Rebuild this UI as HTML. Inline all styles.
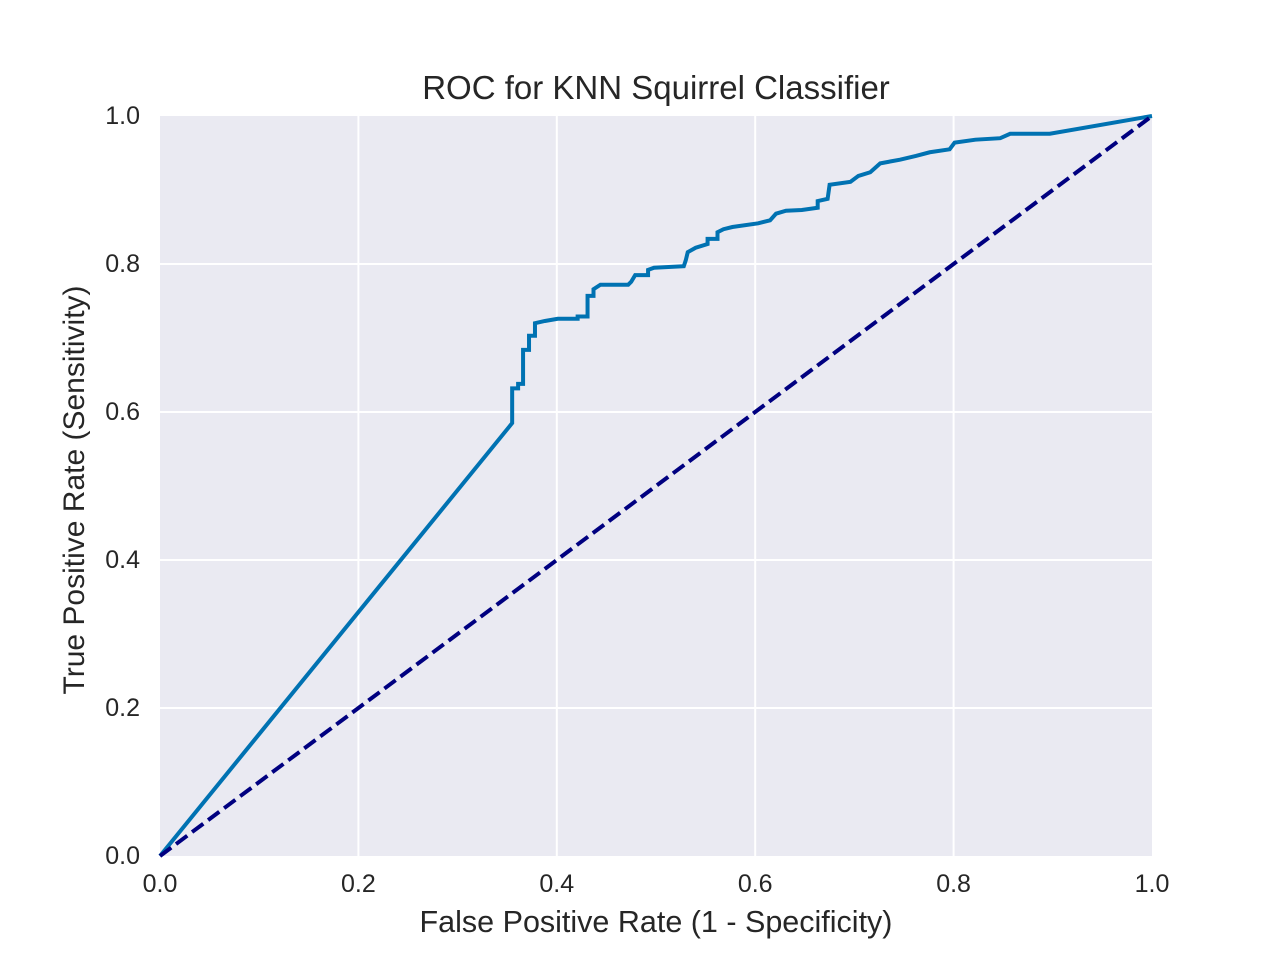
<!DOCTYPE html>
<html><head><meta charset="utf-8"><style>
html,body{margin:0;padding:0;background:#fff;}
svg{display:block;font-family:"Liberation Sans",Arial,sans-serif;}
</style></head><body>
<svg id="chart" width="1280" height="960" xmlns="http://www.w3.org/2000/svg">
<rect x="160" y="116" width="992" height="740" fill="#eaeaf2"/>
<g id="grid"></g>
<g id="ticks"></g>
<g id="series"></g>
<text x="656" y="99" text-anchor="middle" style="font-size:33px" fill="#262626">ROC for KNN Squirrel Classifier</text>
<text x="656" y="932" text-anchor="middle" style="font-size:30.5px" fill="#262626">False Positive Rate (1 - Specificity)</text>
<text transform="translate(84,490) rotate(-90)" text-anchor="middle" style="font-size:30px" fill="#262626">True Positive Rate (Sensitivity)</text>
</svg>
<script>
const tickValues=[0,0.2,0.4,0.6,0.8,1.0];
const tickLabels=["0.0","0.2","0.4","0.6","0.8","1.0"];
const fpr=[0,0.355,0.355,0.361,0.361,0.366,0.366,0.372,0.372,0.378,0.378,0.388,0.401,0.421,0.421,0.431,0.431,0.437,0.437,0.444,0.472,0.475,0.479,0.492,0.492,0.498,0.528,0.530,0.532,0.540,0.552,0.552,0.562,0.562,0.568,0.577,0.603,0.615,0.621,0.631,0.647,0.663,0.663,0.673,0.675,0.696,0.704,0.716,0.726,0.746,0.762,0.776,0.796,0.801,0.822,0.847,0.857,0.897,1];
const tpr=[0,0.585,0.632,0.632,0.638,0.638,0.684,0.684,0.703,0.703,0.720,0.723,0.726,0.726,0.729,0.729,0.757,0.757,0.766,0.772,0.772,0.776,0.785,0.785,0.792,0.795,0.797,0.805,0.816,0.822,0.827,0.834,0.834,0.843,0.847,0.850,0.855,0.859,0.868,0.872,0.873,0.876,0.885,0.888,0.907,0.911,0.919,0.924,0.936,0.941,0.946,0.951,0.955,0.964,0.968,0.970,0.976,0.976,1];
const diagX=[0,1];
const diagY=[0,1];
const NS="http://www.w3.org/2000/svg";
const X0=160,X1=1152,Y0=856,Y1=116;
function xs(v){return X0+v*(X1-X0);}
function ys(v){return Y0-v*(Y0-Y1);}
const grid=document.getElementById('grid'),ticks=document.getElementById('ticks'),series=document.getElementById('series');
tickValues.forEach((v,i)=>{
  if(v>0&&v<1){
    const gx=document.createElementNS(NS,'line');
    gx.setAttribute('x1',xs(v));gx.setAttribute('x2',xs(v));gx.setAttribute('y1',Y1);gx.setAttribute('y2',Y0);
    gx.setAttribute('stroke','#fff');gx.setAttribute('stroke-width','2');
    
    
    grid.appendChild(gx);
    const gy=document.createElementNS(NS,'line');
    gy.setAttribute('y1',ys(v));gy.setAttribute('y2',ys(v));gy.setAttribute('x1',X0);gy.setAttribute('x2',X1);
    gy.setAttribute('stroke','#fff');gy.setAttribute('stroke-width','2');
    
    
    grid.appendChild(gy);
  }
  const tx=document.createElementNS(NS,'text');
  tx.setAttribute('x',xs(v));tx.setAttribute('y',892);tx.setAttribute('text-anchor','middle');
  tx.setAttribute('style','font-size:25px');tx.setAttribute('fill','#262626');tx.textContent=tickLabels[i];
  
  
  ticks.appendChild(tx);
  const ty=document.createElementNS(NS,'text');
  ty.setAttribute('x',140);ty.setAttribute('y',ys(v)+8);ty.setAttribute('text-anchor','end');
  ty.setAttribute('style','font-size:25px');ty.setAttribute('fill','#262626');ty.textContent=tickLabels[i];
  
  
  ticks.appendChild(ty);
});
const roc=document.createElementNS(NS,'polyline');
roc.setAttribute('points',fpr.map((f,i)=>xs(f)+','+ys(tpr[i])).join(' '));
roc.setAttribute('fill','none');roc.setAttribute('stroke','#0072b2');roc.setAttribute('stroke-width','4');


series.appendChild(roc);
const dg=document.createElementNS(NS,'polyline');
dg.setAttribute('points',diagX.map((f,i)=>xs(f)+','+ys(diagY[i])).join(' '));
dg.setAttribute('fill','none');dg.setAttribute('stroke','#000080');dg.setAttribute('stroke-width','4');dg.setAttribute('stroke-dasharray','14,6');


series.appendChild(dg);
</script>
</body></html>
